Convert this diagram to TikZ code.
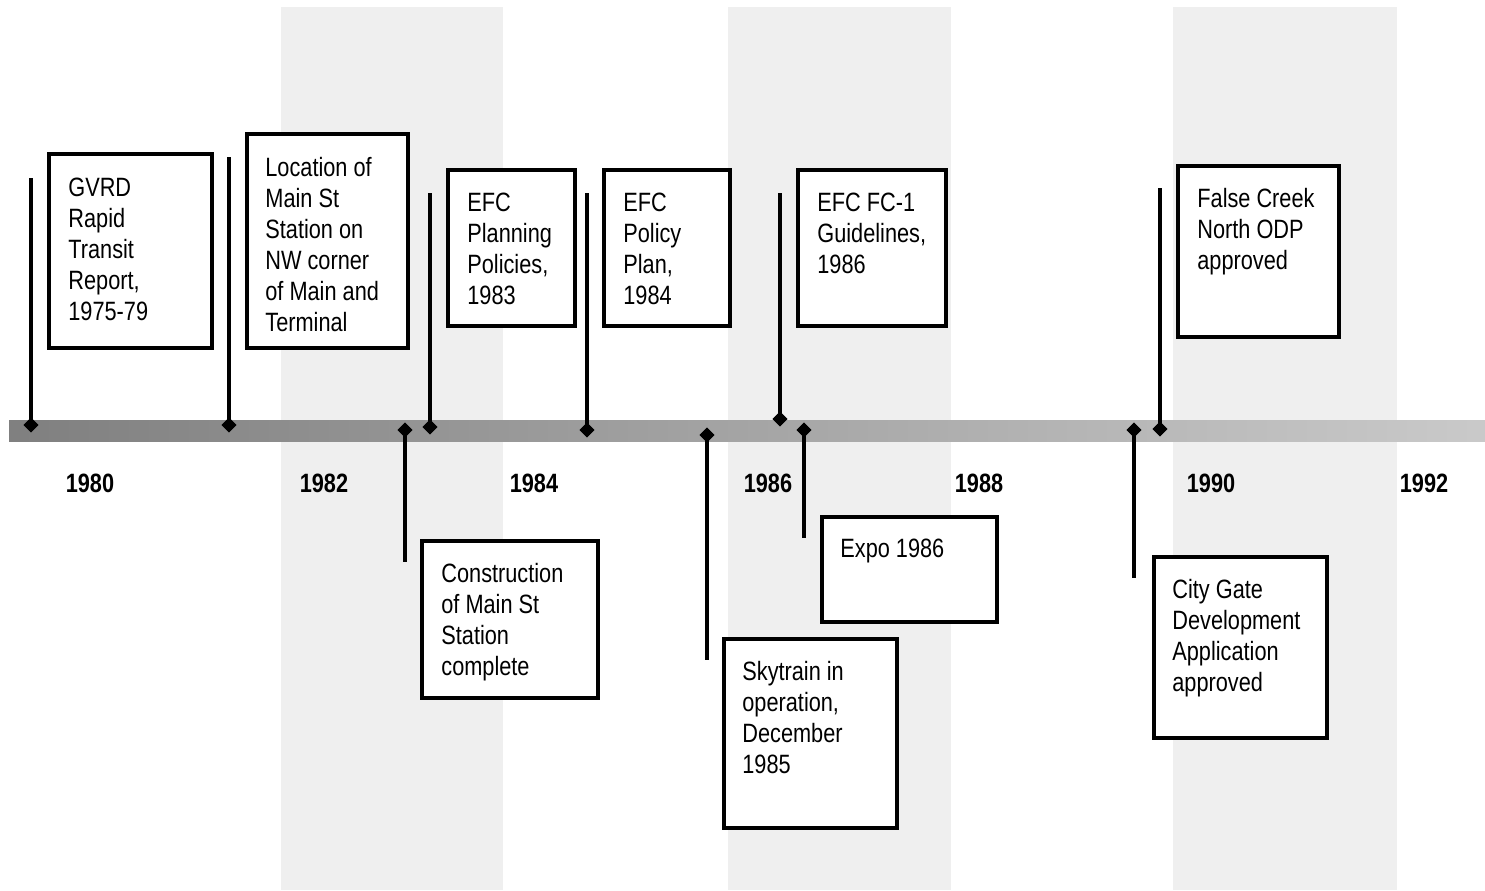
\documentclass[tikz,border=0pt]{standalone}
\usepackage{fontspec}
\setmainfont{Liberation Sans}[FakeStretch=0.82]
\usetikzlibrary{shapes.geometric,fit}
\definecolor{bandgray}{RGB}{239,239,239}
\begin{document}
\begin{tikzpicture}[x=0.5pt,y=-0.5pt,
  band/.style={fill=bandgray},
  dia/.style={diamond,fill=black,inner sep=0pt,minimum size=7.5pt},
  stem/.style={line width=2pt},
  evbox/.style={draw=black,line width=1.8pt,inner sep=0pt,fill=white},
  evtext/.style={anchor=north west,inner sep=0pt,align=left,font=\fontsize{13.25pt}{15.5pt}\selectfont},
  yearlbl/.style={anchor=base,inner sep=0pt,font=\bfseries\fontsize{13.25pt}{15.5pt}\selectfont}]
\useasboundingbox (0,0) rectangle (1485,890);
% bands
\fill[band] (281,7) rectangle (503,890);
\fill[band] (728,7) rectangle (951,890);
\fill[band] (1173,7) rectangle (1397,890);
% bar
\shade[left color=black!50,right color=black!21] (9,420) rectangle (1485,441);
% years
\node[yearlbl] (y80) at (90,492) {1980};
\node[yearlbl] (y82) at (324,492) {1982};
\node[yearlbl] (y84) at (534,492) {1984};
\node[yearlbl] (y86) at (768,492) {1986};
\node[yearlbl] (y88) at (979,492) {1988};
\node[yearlbl] (y90) at (1211,492) {1990};
\node[yearlbl] (y92) at (1424,492) {1992};
% diamonds
\node[dia] (d1) at (31,425) {};
\node[dia] (d2) at (229,425) {};
\node[dia] (d3) at (405,430) {};
\node[dia] (d4) at (430,427) {};
\node[dia] (d5) at (587,430) {};
\node[dia] (d6) at (707,435) {};
\node[dia] (d7) at (780,419) {};
\node[dia] (d8) at (804,430) {};
\node[dia] (d9) at (1134,430) {};
\node[dia] (d10) at (1160,429) {};
% stem ends
\coordinate (e1) at (31,178);
\coordinate (e2) at (229,157);
\coordinate (e3) at (405,562);
\coordinate (e4) at (430,193);
\coordinate (e5) at (587,193);
\coordinate (e6) at (707,660);
\coordinate (e7) at (780,193);
\coordinate (e8) at (804,538);
\coordinate (e9) at (1134,578);
\coordinate (e10) at (1160,188);
\foreach \i in {1,...,10} {\draw[stem] (d\i.center) -- (e\i);}
\foreach \i in {1,...,10} {\node[dia] at (d\i) {};}
% boxes
\newcommand\evbox[5]{%
  \coordinate (#1-a) at (#2,#3);
  \coordinate (#1-b) at (#4,#5);
  \node[evbox,fit=(#1-a)(#1-b)] (#1) {};}
\evbox{b1}{49}{154}{212}{348}
\evbox{b2}{247}{134}{408}{348}
\evbox{b3}{448}{170}{575}{326}
\evbox{b4}{604}{170}{730}{326}
\evbox{b5}{798}{170}{946}{326}
\evbox{b6}{1178}{166}{1339}{337}
\evbox{b7}{422}{541}{598}{698}
\evbox{b8}{822}{517}{997}{622}
\evbox{b9}{724}{639}{897}{828}
\evbox{b10}{1154}{557}{1327}{738}
% texts
\node[evtext] (t1) at (68,178) {GVRD\\Rapid\\Transit\\Report,\\1975-79};
\node[evtext] (t2) at (265,157) {Location of\\Main St\\Station on\\NW corner\\of Main and\\Terminal};
\node[evtext] (t3) at (467,193) {EFC\\Planning\\Policies,\\1983};
\node[evtext] (t4) at (623,193) {EFC\\Policy\\Plan,\\1984};
\node[evtext] (t5) at (817,193) {EFC FC-1\\Guidelines,\\1986};
\node[evtext] (t6) at (1197,188) {False Creek\\North ODP\\approved};
\node[evtext] (t7) at (441,563) {Construction\\of Main St\\Station\\complete};
\node[evtext] (t8) at (840,539) {Expo 1986};
\node[evtext] (t9) at (742,661) {Skytrain in\\operation,\\December\\1985};
\node[evtext] (t10) at (1172,579) {City Gate\\Development\\Application\\approved};
\end{tikzpicture}
\end{document}
